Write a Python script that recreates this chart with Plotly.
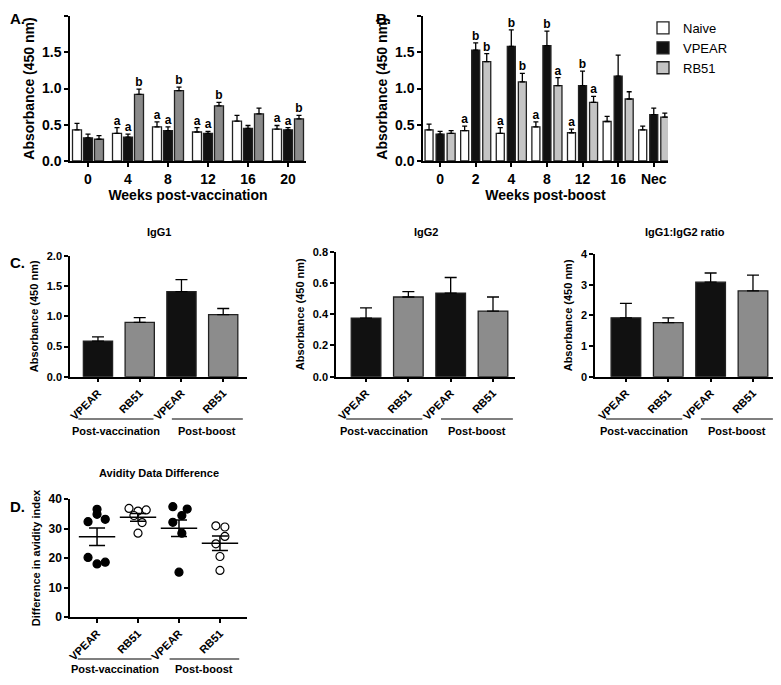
import plotly.graph_objects as go

# The page body keeps its default 8px margin, so the figure is drawn 8px in.
PAGE_PAD = 8
W, H = 781 - PAGE_PAD, 685 - PAGE_PAD
FONT = "Arial, Liberation Sans, sans-serif"


def fx(px):
    return (px - PAGE_PAD) / W


def fy(px):
    return 1 - (px - PAGE_PAD) / H


# ---------------- Panel A data ----------------
weeks_vacc = ['0', '4', '8', '12', '16', '20']
a_naive = [0.43, 0.38, 0.47, 0.40, 0.55, 0.44]
a_naive_err = [0.09, 0.08, 0.07, 0.06, 0.08, 0.05]
a_vpear = [0.32, 0.33, 0.42, 0.38, 0.45, 0.43]
a_vpear_err = [0.05, 0.04, 0.05, 0.03, 0.04, 0.03]
a_rb51 = [0.30, 0.92, 0.97, 0.76, 0.65, 0.58]
a_rb51_err = [0.05, 0.07, 0.05, 0.05, 0.08, 0.05]
a_let_naive = ['', 'a', 'a', 'a', '', 'a']
a_let_vpear = ['', 'a', 'a', 'a', '', 'a']
a_let_rb51 = ['', 'b', 'b', 'b', '', 'b']

# ---------------- Panel B data ----------------
weeks_boost = ['0', '2', '4', '8', '12', '16', 'Nec']
b_naive = [0.43, 0.42, 0.38, 0.47, 0.39, 0.545, 0.43]
b_naive_err = [0.08, 0.06, 0.08, 0.07, 0.05, 0.07, 0.05]
b_vpear = [0.37, 1.53, 1.58, 1.59, 1.04, 1.17, 0.64]
b_vpear_err = [0.04, 0.10, 0.23, 0.20, 0.20, 0.29, 0.09]
b_rb51 = [0.38, 1.37, 1.09, 1.04, 0.81, 0.855, 0.605]
b_rb51_err = [0.04, 0.11, 0.12, 0.11, 0.08, 0.10, 0.055]
b_let_naive = ['', 'a', 'a', 'a', 'a', '', '']
b_let_vpear = ['', 'b', 'b', 'b', 'b', '', '']
b_let_rb51 = ['', 'b', 'b', 'a', 'a', '', '']

# ---------------- Panel C data ----------------
c_labels = ['VPEAR', 'RB51', 'VPEAR', 'RB51']
c_groups = ['Post-vaccination', 'Post-boost']
igg1 = [0.59, 0.90, 1.41, 1.03]
igg1_err = [0.07, 0.08, 0.20, 0.10]
igg2 = [0.375, 0.51, 0.535, 0.42]
igg2_err = [0.065, 0.035, 0.10, 0.09]
ratio = [1.92, 1.76, 3.08, 2.80]
ratio_err = [0.47, 0.16, 0.30, 0.51]

# ---------------- Panel D data ----------------
d_vpear_vacc = [36.5, 32.3, 34.8, 33.1, 20.2, 18.0, 18.6]
d_vpear_vacc_jit = [0.0, -0.22, 0.0, 0.2, -0.22, 0.0, 0.2]
d_rb51_vacc = [36.8, 35.9, 36.3, 34.4, 32.0, 28.4]
d_rb51_vacc_jit = [-0.22, 0.0, 0.2, -0.1, 0.1, 0.0]
d_vpear_boost = [37.4, 36.6, 34.4, 32.1, 28.4, 15.2]
d_vpear_boost_jit = [-0.15, 0.2, 0.07, -0.15, 0.07, 0.0]
d_rb51_boost = [30.9, 30.5, 27.3, 24.8, 20.5, 15.8]
d_rb51_boost_jit = [-0.1, 0.12, 0.12, -0.1, 0.0, 0.0]
d_mean = [27.2, 33.8, 30.1, 25.0]
d_sem = [2.95, 1.3, 2.8, 2.5]

# ---------------- styles ----------------
WHITE, BLACK = '#ffffff', '#111111'
GRAY_A, GRAY_B, GRAY_C = '#8a8a8a', '#c4c4c4', '#8c8c8c'
OUTLINE = '#222222'

fig = go.Figure()


def add_grouped(xa, ya, series, width, spacing, showlegend):
    n = len(series)
    for k, (name, vals, errs, color, letters) in enumerate(series):
        center = (k - (n - 1) / 2) * spacing
        xs = list(range(len(vals)))
        fig.add_trace(go.Bar(
            x=xs, y=vals, name=name, xaxis=xa, yaxis=ya,
            offset=center - width / 2, width=width,
            marker=dict(color=color, line=dict(color=OUTLINE, width=1.3)),
            error_y=dict(type='data', array=errs, arrayminus=[0] * len(errs),
                         symmetric=False, color='black', thickness=1.3, width=2.5),
            showlegend=showlegend, legendgroup=name,
        ))
        fig.add_trace(go.Scatter(
            x=[i + center for i in xs], y=[v + e for v, e in zip(vals, errs)],
            mode='text', text=letters, textposition='top center',
            textfont=dict(family=FONT, size=12, color='black', weight='bold'),
            xaxis=xa, yaxis=ya, showlegend=False, hoverinfo='skip',
        ))


add_grouped('x', 'y', [
    ('Naive', a_naive, a_naive_err, WHITE, a_let_naive),
    ('VPEAR', a_vpear, a_vpear_err, BLACK, a_let_vpear),
    ('RB51', a_rb51, a_rb51_err, GRAY_A, a_let_rb51),
], width=0.225, spacing=0.275, showlegend=False)

add_grouped('x2', 'y2', [
    ('Naive', b_naive, b_naive_err, WHITE, b_let_naive),
    ('VPEAR', b_vpear, b_vpear_err, BLACK, b_let_vpear),
    ('RB51', b_rb51, b_rb51_err, GRAY_B, b_let_rb51),
], width=0.225, spacing=0.31, showlegend=True)

c_colors = [BLACK if l == 'VPEAR' else GRAY_C for l in c_labels]
for xa, ya, vals, errs in [('x3', 'y3', igg1, igg1_err), ('x4', 'y4', igg2, igg2_err),
                           ('x5', 'y5', ratio, ratio_err)]:
    fig.add_trace(go.Bar(
        x=list(range(len(vals))), y=vals, xaxis=xa, yaxis=ya, width=0.70,
        marker=dict(color=c_colors, line=dict(color=OUTLINE, width=1.3)),
        error_y=dict(type='data', array=errs, arrayminus=[0] * len(errs),
                     symmetric=False, color='black', thickness=1.3, width=6),
        showlegend=False,
    ))

# Panel D scatter
d_sets = [(d_vpear_vacc, d_vpear_vacc_jit, True), (d_rb51_vacc, d_rb51_vacc_jit, False),
          (d_vpear_boost, d_vpear_boost_jit, True), (d_rb51_boost, d_rb51_boost_jit, False)]
for i, (vals, jit, filled) in enumerate(d_sets):
    fig.add_trace(go.Scatter(
        x=[i + j for j in jit], y=vals, mode='markers', xaxis='x6', yaxis='y6',
        marker=dict(size=8, color='black' if filled else 'white',
                    line=dict(color='black', width=1.2)),
        showlegend=False,
    ))
fig.add_trace(go.Scatter(
    x=list(range(len(d_mean))), y=d_mean, mode='markers', xaxis='x6', yaxis='y6',
    marker=dict(symbol='line-ew-open', size=26, color='black',
                line=dict(color='black', width=1.5)),
    error_y=dict(type='data', array=d_sem, color='black', thickness=1.5, width=8),
    showlegend=False,
))

# ---------------- axes ----------------
axis_common = dict(showline=True, linecolor='black', linewidth=1.5, ticks='outside',
                   ticklen=4, tickwidth=1.5, tickcolor='black', showgrid=False,
                   zeroline=False, mirror=False, automargin=False)


def tf(size):
    return dict(family=FONT, size=size, color='black', weight='bold')


def ttl(text, size, standoff):
    return dict(text=text, font=tf(size), standoff=standoff)


layout = dict(
    width=W, height=H, margin=dict(l=0, r=0, t=0, b=0, autoexpand=False),
    paper_bgcolor='white', plot_bgcolor='white', barmode='overlay',
    font=dict(family=FONT, color='black'),
    xaxis=dict(axis_common, domain=[fx(70), fx(306)], range=[-0.45, 5.45], anchor='y',
               tickvals=list(range(len(weeks_vacc))), ticktext=weeks_vacc, tickfont=tf(14),
               title=ttl('Weeks post-vaccination', 14, 4)),
    yaxis=dict(axis_common, domain=[fy(161), fy(16)], range=[0, 2], anchor='x',
               tickvals=[0, 0.5, 1, 1.5, 2], ticktext=['0.0', '0.5', '1.0', '1.5', '2.0'],
               tickfont=tf(14), title=ttl('Absorbance (450 nm)', 14, 4)),
    xaxis2=dict(axis_common, domain=[fx(423), fx(668)], range=[-0.48, 6.4], anchor='y2',
                tickvals=list(range(len(weeks_boost))), ticktext=weeks_boost, tickfont=tf(14),
                title=ttl('Weeks post-boost', 14, 4)),
    yaxis2=dict(axis_common, domain=[fy(161), fy(16)], range=[0, 2], anchor='x2',
                tickvals=[0, 0.5, 1, 1.5, 2], ticktext=['0.0', '0.5', '1.0', '1.5', '2.0'],
                tickfont=tf(14), title=ttl('Absorbance (450 nm)', 14, 4)),
)

c_axes = [('3', [70, 247], [-0.67, 3.57], 256, [0, 2], [0, 0.5, 1, 1.5, 2],
           ['0.0', '0.5', '1.0', '1.5', '2.0']),
          ('4', [336, 515], [-0.71, 3.52], 251.7, [0, 0.8], [0, 0.2, 0.4, 0.6, 0.8],
           ['0.0', '0.2', '0.4', '0.6', '0.8']),
          ('5', [595, 775], [-0.73, 3.52], 254, [0, 4], [0, 1, 2, 3, 4],
           ['0', '1', '2', '3', '4'])]
for n, xd, xr, ytop, yr, tv, tt in c_axes:
    layout['xaxis' + n] = dict(axis_common, domain=[fx(xd[0]), fx(xd[1])], range=xr,
                               anchor='y' + n, tickvals=list(range(len(c_labels))),
                               ticktext=c_labels, tickangle=-45, tickfont=tf(11))
    layout['yaxis' + n] = dict(axis_common, domain=[fy(376.7), fy(ytop)], range=yr,
                               anchor='x' + n, tickvals=tv, ticktext=tt, tickfont=tf(11),
                               title=ttl('Absorbance (450 nm)', 11, 6))

layout['xaxis6'] = dict(axis_common, domain=[fx(70), fx(247)], range=[-0.66, 3.66],
                        anchor='y6', tickvals=list(range(len(c_labels))), ticktext=c_labels,
                        tickangle=-45, tickfont=tf(11))
layout['yaxis6'] = dict(axis_common, domain=[fy(617), fy(499)], range=[0, 40], anchor='x6',
                        tickvals=[0, 10, 20, 30, 40], tickfont=tf(12),
                        title=ttl('Difference in avidity index', 11, 6))

layout['legend'] = dict(x=fx(643), y=fy(13), xanchor='left', yanchor='top',
                        font=dict(family=FONT, size=13, color='black'),
                        bgcolor='rgba(0,0,0,0)', itemwidth=30, tracegroupgap=0)

fig.update_layout(**layout)

# ---------------- group brackets, titles, panel labels ----------------
GROUP_SPANS = [(-0.47, 1.33), (1.77, 3.47)]
shapes, annots = [], []
for xa, yline, ytext in [('x3', 419, 431), ('x4', 419, 431), ('x5', 419, 431), ('x6', 659, 669)]:
    for (x0, x1), g in zip(GROUP_SPANS, c_groups):
        shapes.append(dict(type='line', xref=xa, yref='paper', x0=x0, x1=x1,
                           y0=fy(yline), y1=fy(yline), line=dict(color='black', width=1.2)))
        annots.append(dict(xref=xa, yref='paper', x=(x0 + x1) / 2, y=fy(ytext), text=g,
                           showarrow=False, font=tf(11), xanchor='center', yanchor='middle'))

for xa, t, ypx in [('x3', 'IgG1', 232), ('x4', 'IgG2', 232), ('x5', 'IgG1:IgG2 ratio', 232),
                   ('x6', 'Avidity Data Difference', 473)]:
    annots.append(dict(xref=xa + ' domain', yref='paper', x=0.5, y=fy(ypx), text=t,
                       showarrow=False, font=tf(11), xanchor='center', yanchor='middle'))

# panel letters (A/B hug the very top of the figure so they are not clipped)
for t, xp, yp, anchor in [('A.', 8, PAGE_PAD, 'top'), ('B.', 374, PAGE_PAD, 'top'),
                          ('C.', 8, 262, 'middle'), ('D.', 8, 506, 'middle')]:
    annots.append(dict(xref='paper', yref='paper', x=fx(xp), y=fy(yp), text=t,
                       showarrow=False, font=tf(15), xanchor='left', yanchor=anchor))

fig.update_layout(shapes=shapes, annotations=annots)

fig.write_html("out.html")
